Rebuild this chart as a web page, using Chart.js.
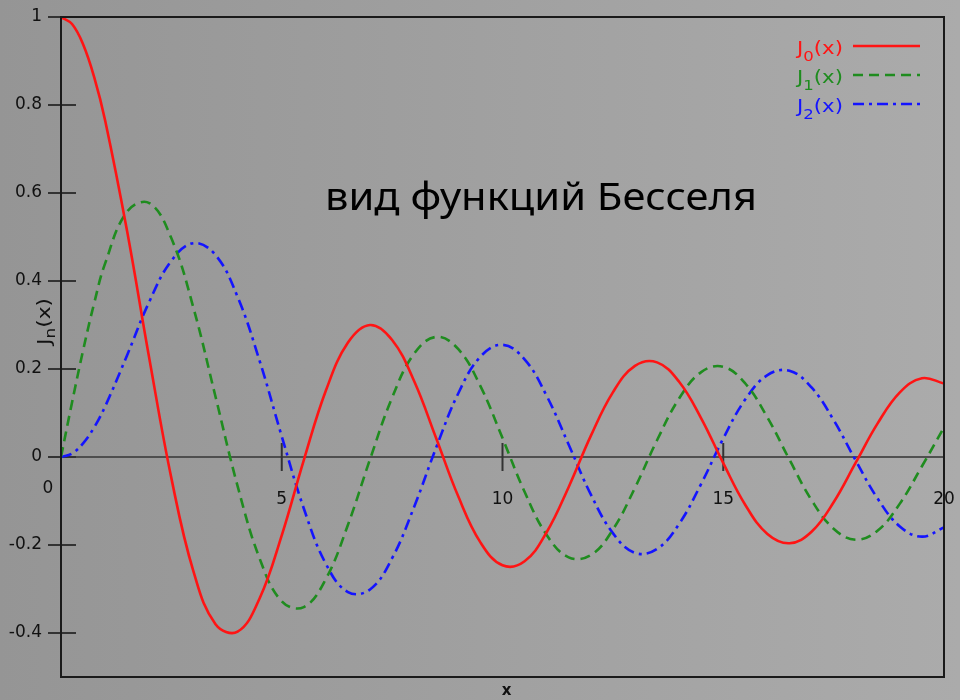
<!DOCTYPE html>
<html>
<head>
<meta charset="utf-8">
<title>вид функций Бесселя</title>
<script src="https://cdn.jsdelivr.net/npm/chart.js@4.4.1/dist/chart.umd.min.js"></script>
<style>
  html, body { margin: 0; padding: 0; background: #9e9e9e; }
  canvas { display: block; }
</style>
</head>
<body>
<canvas id="chart" width="960" height="700"></canvas>
<script>
// Sample positions along x (denser near the origin)
const xValues = [0, 0.25, 0.5, 0.75, 1, 1.5, 2, 2.5, 3, 3.5, 4, 4.5, 5, 5.5, 6, 6.5, 7, 7.5, 8, 8.5, 9, 9.5,
  10, 10.5, 11, 11.5, 12, 12.5, 13, 13.5, 14, 14.5, 15, 15.5, 16, 16.5, 17, 17.5, 18, 18.5, 19, 19.5, 20];

// J0(x)
const j0Values = [1, 0.984, 0.938, 0.864, 0.765, 0.512, 0.224, -0.048, -0.260, -0.380, -0.397, -0.321,
  -0.178, -0.007, 0.151, 0.260, 0.300, 0.266, 0.172, 0.042, -0.090, -0.194,
  -0.246, -0.237, -0.171, -0.068, 0.048, 0.147, 0.207, 0.215, 0.171, 0.088,
  -0.014, -0.109, -0.175, -0.196, -0.170, -0.103, -0.013, 0.077, 0.147, 0.179, 0.167];

// J1(x)
const j1Values = [0, 0.124, 0.242, 0.349, 0.440, 0.558, 0.577, 0.497, 0.339, 0.137, -0.066, -0.231,
  -0.328, -0.341, -0.277, -0.154, -0.005, 0.135, 0.235, 0.273, 0.245, 0.161,
  0.043, -0.079, -0.177, -0.228, -0.223, -0.165, -0.070, 0.038, 0.133, 0.193,
  0.205, 0.167, 0.090, -0.006, -0.098, -0.163, -0.188, -0.167, -0.106, -0.021, 0.067];

// J2(x)
const j2Values = [0, 0.008, 0.031, 0.067, 0.115, 0.232, 0.353, 0.446, 0.486, 0.459, 0.364, 0.218,
  0.047, -0.117, -0.243, -0.307, -0.301, -0.230, -0.113, 0.022, 0.145, 0.228,
  0.255, 0.222, 0.139, 0.028, -0.085, -0.173, -0.218, -0.209, -0.152, -0.061,
  0.042, 0.131, 0.186, 0.196, 0.158, 0.084, -0.008, -0.095, -0.158, -0.181, -0.160];

const seriesOrders = ['0', '1', '2'];
const yTickValues = [1, 0.8, 0.6, 0.4, 0.2, 0, -0.2, -0.4];
const xTickValues = [0, 5, 10, 15, 20];
const titleText = 'вид функций Бесселя';

const COLORS = ['#ff1414', '#1f8c1f', '#1414ff'];
const DASHES = [[], [10, 6], [11, 5, 3, 5]];
const LABEL_FONT = '"DejaVu Sans", sans-serif';

function toPoints(values) {
  return xValues.map((x, i) => ({ x: x, y: values[i] }));
}

const datasets = [j0Values, j1Values, j2Values].map((vals, i) => ({
  label: 'J' + seriesOrders[i] + '(x)',
  data: toPoints(vals),
  borderColor: COLORS[i],
  borderWidth: 2.6,
  borderDash: DASHES[i],
  pointRadius: 0,
  tension: 0.4,
  fill: false
}));

// Draws "J", a subscript and "(x)" starting at (0,0), stretched to a given width
function drawSubscripted(ctx, sub, width, bigPx, smallPx, subDrop) {
  const big = bigPx + 'px ' + LABEL_FONT, small = smallPx + 'px ' + LABEL_FONT;
  ctx.font = big; const w1 = ctx.measureText('J').width; const w3 = ctx.measureText('(x)').width;
  ctx.font = small; const w2 = ctx.measureText(sub).width;
  const total = w1 + w2 + w3;
  ctx.save();
  ctx.scale(width / total, 1);
  let tx = 0;
  ctx.font = big; ctx.fillText('J', tx, 0); tx += w1;
  ctx.font = small; ctx.fillText(sub, tx, subDrop); tx += w2;
  ctx.font = big; ctx.fillText('(x)', tx, 0);
  ctx.restore();
}

// Grey backdrop, slightly lighter towards the right
const backdrop = {
  id: 'backdrop',
  beforeDraw(chart) {
    const { ctx, width, height } = chart;
    const g = ctx.createLinearGradient(0, 0, width, 0);
    g.addColorStop(0, '#959595');
    g.addColorStop(1, '#ababab');
    ctx.save();
    ctx.fillStyle = g;
    ctx.fillRect(0, 0, width, height);
    ctx.restore();
  }
};

// Zero line and tick marks under the curves
const underlay = {
  id: 'underlay',
  beforeDatasetsDraw(chart) {
    const { ctx, chartArea: a, scales: { x, y } } = chart;
    const y0 = y.getPixelForValue(0);
    ctx.save();
    ctx.strokeStyle = 'rgba(70,70,70,0.9)';
    ctx.lineWidth = 2;
    ctx.beginPath();
    ctx.moveTo(a.left - 13, y0);
    ctx.lineTo(a.right, y0);
    ctx.stroke();

    ctx.strokeStyle = '#333';
    ctx.lineWidth = 2;
    xTickValues.forEach(v => {
      if (v === x.min || v === x.max) return;
      const px = x.getPixelForValue(v);
      ctx.beginPath();
      ctx.moveTo(px, y0 - 14);
      ctx.lineTo(px, y0 + 14);
      ctx.stroke();
    });
    yTickValues.forEach(v => {
      const py = y.getPixelForValue(v);
      ctx.beginPath();
      ctx.moveTo(a.left - 13, py);
      ctx.lineTo(a.left + 15, py);
      ctx.stroke();
    });
    ctx.restore();
  }
};

// Frame, axis labels, legend and caption on top
const overlay = {
  id: 'overlay',
  afterDraw(chart) {
    const { ctx, chartArea: a, scales: { x, y } } = chart;
    const y0 = y.getPixelForValue(0);
    ctx.save();

    // frame
    ctx.strokeStyle = '#1a1a1a';
    ctx.lineWidth = 2;
    ctx.strokeRect(a.left, a.top, a.right - a.left, a.bottom - a.top);

    // x tick labels along the zero line
    ctx.fillStyle = '#111';
    ctx.font = '17px ' + LABEL_FONT;
    ctx.textAlign = 'center';
    ctx.textBaseline = 'middle';
    xTickValues.forEach(v => {
      const px = x.getPixelForValue(v);
      if (v === x.min) {
        ctx.fillText(String(v), px - 13, y0 + 32);
      } else {
        ctx.fillText(String(v), px, y0 + 43);
      }
    });

    // x axis title
    ctx.font = 'bold 15px ' + LABEL_FONT;
    ctx.fillText('x', (a.left + a.right) / 2 + 4, a.bottom + 14);

    ctx.textAlign = 'left';
    ctx.textBaseline = 'alphabetic';

    // y axis title J_n(x), rotated
    ctx.save();
    ctx.translate(50, 345);
    ctx.rotate(-Math.PI / 2);
    drawSubscripted(ctx, 'n', 47, 18, 14, 5);
    ctx.restore();

    // legend
    const rows = [46, 75, 104];
    chart.data.datasets.forEach((ds, i) => {
      const ly = rows[i];
      ctx.fillStyle = ds.borderColor;
      ctx.save();
      ctx.translate(797, ly + 8);
      drawSubscripted(ctx, seriesOrders[i], 46, 18, 14, 7);
      ctx.restore();
      ctx.strokeStyle = ds.borderColor;
      ctx.lineWidth = 2.6;
      ctx.setLineDash(ds.borderDash);
      ctx.beginPath();
      ctx.moveTo(853, ly);
      ctx.lineTo(920, ly);
      ctx.stroke();
      ctx.setLineDash([]);
    });

    // caption
    ctx.fillStyle = '#000';
    ctx.font = '38px "Noto Sans", sans-serif';
    const tw = ctx.measureText(titleText).width;
    ctx.save();
    ctx.translate(325, 210);
    ctx.scale(432 / tw, 1);
    ctx.fillText(titleText, 0, 0);
    ctx.restore();
    ctx.restore();
  }
};

new Chart(document.getElementById('chart'), {
  type: 'line',
  data: { datasets: datasets },
  options: {
    responsive: false,
    animation: false,
    events: [],
    layout: { padding: { top: 17, right: 16, bottom: 23, left: 0 } },
    plugins: { legend: { display: false }, tooltip: { enabled: false }, title: { display: false } },
    scales: {
      x: { type: 'linear', min: 0, max: 20, display: false },
      y: {
        type: 'linear', min: -0.5, max: 1,
        afterFit(scale) { scale.width = 61; scale.paddingTop = 0; scale.paddingBottom = 0; },
        afterBuildTicks(scale) {
          scale.ticks = yTickValues.slice().sort((p, q) => p - q).map(v => ({ value: v }));
        },
        ticks: {
          callback: v => String(v),
          font: { family: 'DejaVu Sans', size: 17 },
          color: '#111',
          padding: 19
        },
        grid: { display: false, drawTicks: false },
        border: { display: false }
      }
    }
  },
  plugins: [backdrop, underlay, overlay]
});
</script>
</body>
</html>
